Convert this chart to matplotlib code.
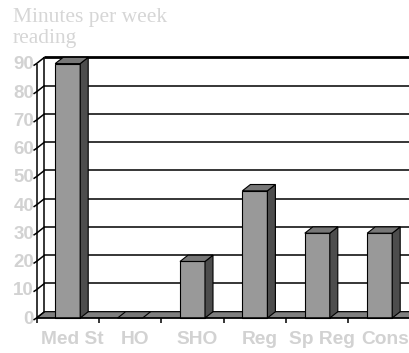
import matplotlib
matplotlib.use("Agg")
import matplotlib.pyplot as plt
from matplotlib.patches import Polygon

# Data
categories = ["Med St", "HO", "SHO", "Reg", "Sp Reg", "Cons"]
minutes = [90, 0, 20, 45, 30, 30]
y_ticks = [0, 10, 20, 30, 40, 50, 60, 70, 80, 90]
title_lines = ["Minutes per week", "reading"]

W_PX, H_PX = 410, 353
fig = plt.figure(figsize=(W_PX / 100, H_PX / 100), dpi=100)
fig.patch.set_facecolor("white")

# plot box in pixels: category boundaries from 36.5 px with 62.4 px spacing,
# value 0 at 318 px from top and 90 at 63.6 px from top
left_px, cat_px = 36.5, 62.4
y0_px, y90_px = 318.0, 63.6
n = len(categories)
ax = fig.add_axes([left_px / W_PX, (H_PX - y0_px) / H_PX,
                   n * cat_px / W_PX, (y0_px - y90_px) / H_PX])
ax.set_xlim(-0.5, n - 0.5)
ax.set_ylim(0, 90)
ax.axis("off")

px_x = 1 / cat_px                 # one pixel in category units
px_y = 90 / (y0_px - y90_px)      # one pixel in value units
dx, dy = 8 * px_x, 6.3 * px_y     # depth offset of the 3-D box
xl, xr = -0.5, n - 0.5
ymax = y_ticks[-1]

line_kw = dict(color="black", lw=1.1, clip_on=False, solid_capstyle="butt")

# back wall gridlines
for v in y_ticks:
    ax.plot([xl + dx, xr + dx], [v + dy, v + dy], zorder=1,
            **{**line_kw, "lw": 2.0 if v == ymax else 1.1})
# left wall: back edge, front axis and receding gridlines
ax.plot([xl + dx, xl + dx], [dy, ymax + dy], zorder=1, **line_kw)
ax.plot([xl, xl], [0, ymax], zorder=4, **line_kw)
for v in y_ticks:
    ax.plot([xl - 3 * px_x, xl, xl + dx], [v - 2 * px_y, v, v + dy],
            zorder=4, **line_kw)

# floor
floor = Polygon([(xl, 0), (xr, 0), (xr + dx, dy), (xl + dx, dy)],
                closed=True, facecolor="#7f7f7f", edgecolor="black",
                lw=0.8, zorder=2, clip_on=False)
ax.add_patch(floor)
ax.plot([xl, xr], [0, 0], zorder=5, **line_kw)
for b in range(n + 1):
    xb = xl + b
    ax.plot([xb, xb], [0, -5 * px_y], zorder=5, **line_kw)

# 3-D columns
half = 12.5 * px_x
front_c, side_c, top_c = "#999999", "#4d4d4d", "#777777"
for i, v in enumerate(minutes):
    x0, x1 = i - half, i + half
    pkw = dict(closed=True, edgecolor="black", lw=0.8, zorder=3 + i * 0.01,
               clip_on=False)
    if v > 0:
        ax.add_patch(Polygon([(x0, 0), (x1, 0), (x1, v), (x0, v)],
                             facecolor=front_c, **pkw))
        ax.add_patch(Polygon([(x1, 0), (x1 + dx, dy), (x1 + dx, v + dy), (x1, v)],
                             facecolor=side_c, **pkw))
    ax.add_patch(Polygon([(x0, v), (x1, v), (x1 + dx, v + dy), (x0 + dx, v + dy)],
                         facecolor=top_c, **pkw))

label_c = "#d2d2d2"
sans = ["Liberation Sans", "DejaVu Sans"]
# value axis labels
for v in y_ticks:
    ax.text(xl - 2.5 * px_x, v - 1.2 * px_y, str(v), ha="right", va="center",
            fontsize=13.5, fontweight="bold", family=sans, color=label_c,
            clip_on=False)
# category labels
for i, c in enumerate(categories):
    ax.text(i + 5 * px_x, -22 * px_y, c, ha="center", va="center",
            fontsize=13.8, fontweight="bold", family=sans, color=label_c,
            clip_on=False)

# title block
serif = ["Liberation Serif", "DejaVu Serif"]
for k, line in enumerate(title_lines):
    fig.text(13 / W_PX, 1 - (21.7 + 21.8 * k) / H_PX, line, ha="left",
             va="baseline", fontsize=15.5, family=serif, color="#d6d6d6")

fig.savefig("out.png", dpi=100, facecolor="white")
